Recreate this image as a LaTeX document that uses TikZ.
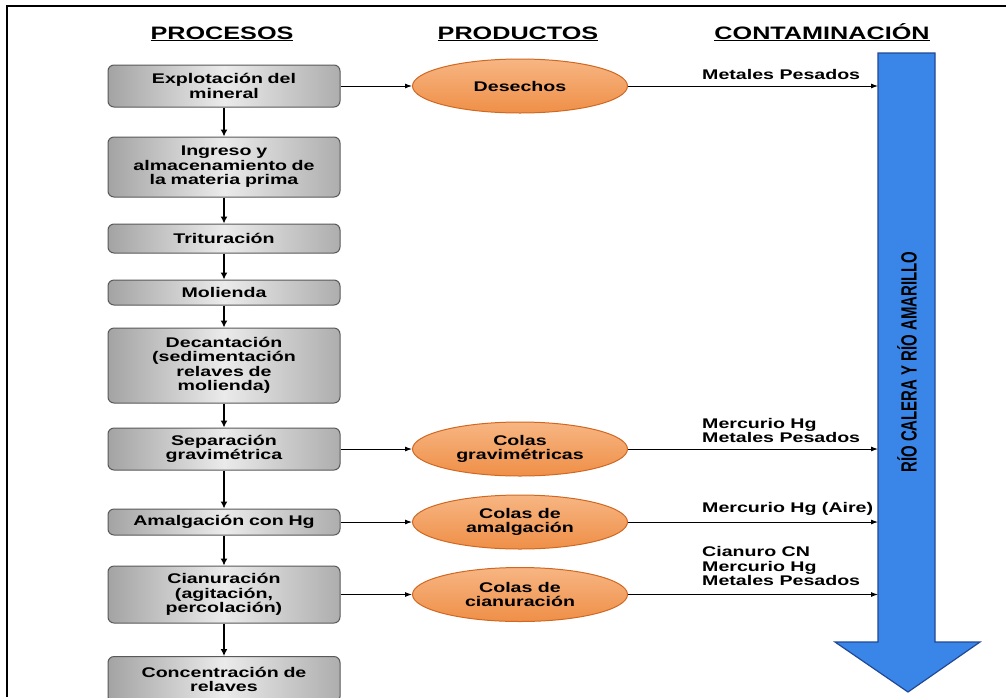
\documentclass[tikz,border=0pt]{standalone}
\usepackage{fontspec}
\setmainfont{Liberation Sans}[FakeStretch=1.4]
\newfontfamily\riofont{Liberation Sans}[FakeStretch=0.68]
\usetikzlibrary{positioning,shapes.geometric,arrows.meta}
\definecolor{naranja}{RGB}{244,150,78}
\definecolor{naranjaosc}{RGB}{208,104,34}
\definecolor{azulrio}{RGB}{58,134,232}
\definecolor{azulosc}{RGB}{32,72,150}

\begin{document}
\begin{tikzpicture}[x=1pt, y=1pt,
    proceso/.style={draw=gray!70!black, line width=1pt, rounded corners=6pt,
        left color=gray!72, right color=gray!64, middle color=gray!16,
        minimum width=232pt, text width=226pt, align=center, inner sep=0pt,
        font=\bfseries\fontsize{14}{14.5}\selectfont},
    producto/.style={ellipse, draw=naranjaosc, line width=1pt,
        top color=naranja!70!white, bottom color=naranja!85!naranjaosc,
        minimum width=215pt, minimum height=54pt, inner sep=0pt, align=center,
        font=\bfseries\fontsize{14}{14.5}\selectfont},
    etiqueta/.style={anchor=south west, inner sep=0pt, align=left,
        font=\bfseries\fontsize{14}{14.5}\selectfont},
    titulo/.style={anchor=base, font=\bfseries\fontsize{18}{20}\selectfont},
    flecha/.style={-{Latex[length=7pt,width=7pt]}, line width=2.6pt},
    salida/.style={-{Latex[length=7pt,width=5pt]}, line width=0.9pt}]
    \useasboundingbox (0,0) rectangle (1006,-697);
    \draw[line width=1.5pt] (7,-697) -- (7,-6) -- (1006,-6);

    % titulos
    \node[titulo] (h1) at (222,-39) {\underline{PROCESOS}};
    \node[titulo] (h2) at (518,-39) {\underline{PRODUCTOS}};
    \node[titulo] (h3) at (822,-39) {\underline{CONTAMINACIÓN}};

    % procesos
    \node[proceso, minimum height=42pt] (p1) at (224,-86) {Explotación del\\mineral};
    \node[proceso, minimum height=60pt, node distance=81pt, below of=p1] (p2) {Ingreso y\\almacenamiento de\\la materia prima};
    \node[proceso, minimum height=29pt, node distance=71.5pt, below of=p2] (p3) {Trituración};
    \node[proceso, minimum height=25pt, node distance=54pt, below of=p3] (p4) {Molienda};
    \node[proceso, minimum height=75pt, node distance=73pt, below of=p4] (p5) {Decantación\\(sedimentación\\relaves de\\molienda)};
    \node[proceso, minimum height=42pt, node distance=83.5pt, below of=p5] (p6) {Separación\\gravimétrica};
    \node[proceso, minimum height=26pt, node distance=73pt, below of=p6] (p7) {Amalgación con Hg};
    \node[proceso, minimum height=57pt, node distance=72.5pt, below of=p7] (p8) {Cianuración\\(agitación,\\percolación)};
    \node[proceso, minimum height=46pt, node distance=85pt, below of=p8] (p9) {Concentración de\\relaves};

    \draw[flecha] (p1) -- (p2);
    \draw[flecha] (p2) -- (p3);
    \draw[flecha] (p3) -- (p4);
    \draw[flecha] (p4) -- (p5);
    \draw[flecha] (p5) -- (p6);
    \draw[flecha] (p6) -- (p7);
    \draw[flecha] (p7) -- (p8);
    \draw[flecha] (p8) -- (p9);

    % productos
    \node[producto, node distance=296pt, right of=p1] (e1) {Desechos};
    \node[producto, node distance=296pt, right of=p6] (e2) {Colas\\gravimétricas};
    \node[producto, node distance=296pt, right of=p7] (e3) {Colas de\\amalgación};
    \node[producto, node distance=296pt, right of=p8] (e4) {Colas de\\cianuración};

    \draw[salida] (p1.east) -- (e1.west);
    \draw[salida] (p6.east) -- (e2.west);
    \draw[salida] (p7.east) -- (e3.west);
    \draw[salida] (p8.east) -- (e4.west);

    % rio
    \draw[azulosc, fill=azulrio, line width=1.2pt] (878,-53) -- (935,-53) -- (935,-642)
        -- (980,-642) -- (908,-692) -- (835,-642) -- (878,-642) -- cycle;
    \node[rotate=90, font=\riofont\bfseries\fontsize{22}{22}\selectfont] (rio) at (907,-362) {RÍO CALERA Y RÍO AMARILLO};
    \coordinate (rioL) at (878,0);

    \draw[salida] (e1.east) -- (e1.east -| rioL);
    \draw[salida] (e2.east) -- (e2.east -| rioL);
    \draw[salida] (e3.east) -- (e3.east -| rioL);
    \draw[salida] (e4.east) -- (e4.east -| rioL);

    % contaminantes
    \node[etiqueta] (c1) at (702,-80) {Metales Pesados};
    \node[etiqueta] (c2) at (702,-443) {Mercurio Hg\\Metales Pesados};
    \node[etiqueta] (c3) at (702,-516) {Mercurio Hg (Aire)};
    \node[etiqueta] (c4) at (702,-586) {Cianuro CN\\Mercurio Hg\\Metales Pesados};
\end{tikzpicture}
\end{document}
